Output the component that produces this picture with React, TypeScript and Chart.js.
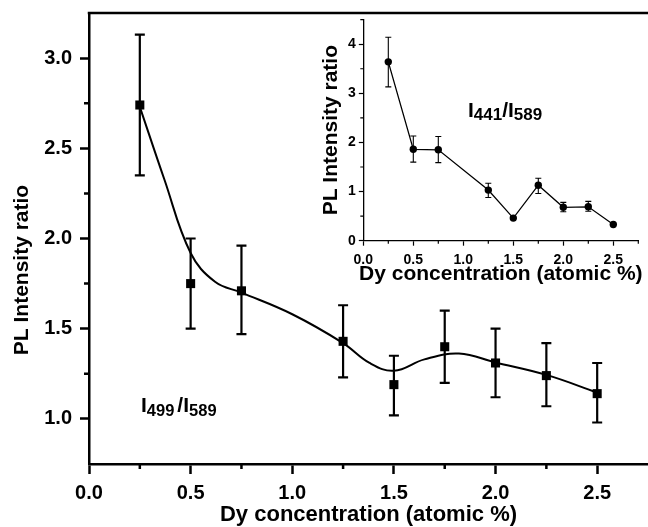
import React, { useEffect, useRef } from 'react';
import { Chart, registerables } from 'chart.js';

Chart.register(...registerables);

// ---- main plot data: I499/I589 ----
const concentration = [0.25, 0.5, 0.75, 1.25, 1.5, 1.75, 2.0, 2.25, 2.5];
const ratio499 = [2.74, 1.75, 1.71, 1.43, 1.19, 1.40, 1.31, 1.24, 1.14];
const ratio499High = [3.13, 2.0, 1.96, 1.63, 1.35, 1.6, 1.5, 1.42, 1.31];
const ratio499Low = [2.35, 1.5, 1.47, 1.23, 1.02, 1.2, 1.12, 1.07, 0.98];

// smooth fit curve
const fitX = [0.25, 0.37, 0.5, 0.62, 0.75, 1.0, 1.25, 1.38, 1.5, 1.65, 1.82, 2.0, 2.25, 2.5];
const fitY = [2.73, 2.33, 1.92, 1.76, 1.70, 1.58, 1.42, 1.31, 1.267, 1.33, 1.362, 1.313, 1.244, 1.146];

// ---- inset data: I441/I589 ----
const ratio441 = [3.64, 1.86, 1.85, 1.03, 0.46, 1.13, 0.68, 0.69, 0.33];
const ratio441High = [4.14, 2.13, 2.12, 1.17, 0.46, 1.27, 0.78, 0.8, 0.33];
const ratio441Low = [3.13, 1.6, 1.59, 0.88, 0.46, 0.96, 0.59, 0.6, 0.33];

// ---- ticks ----
const mainXTicks = [0, 0.5, 1.0, 1.5, 2.0, 2.5];
const mainXMinor = [0.25, 0.75, 1.25, 1.75, 2.25];
const mainYTicks = [1.0, 1.5, 2.0, 2.5, 3.0];
const mainYMinor = [1.25, 1.75, 2.25, 2.75];
const insetXTicks = [0, 0.5, 1.0, 1.5, 2.0, 2.5];
const insetXMinor = [0.25, 0.75, 1.25, 1.75, 2.25, 2.75];
const insetYTicks = [0, 1, 2, 3, 4];
const insetYMinor = [0.5, 1.5, 2.5, 3.5, 4.5];

const xTitle = 'Dy concentration (atomic %)';
const yTitle = 'PL Intensity ratio';
const mainLabel = [
  { t: 'I', sub: false },
  { t: '499', sub: true },
  { t: ' ', sub: false, gap: 3 },
  { t: '/', sub: false },
  { t: 'I', sub: false },
  { t: '589', sub: true },
];
const insetLabel = [
  { t: 'I', sub: false },
  { t: '441', sub: true },
  { t: '/', sub: false },
  { t: 'I', sub: false },
  { t: '589', sub: true },
];

const FAMILY = '"Liberation Sans", Arial, Helvetica, sans-serif';
const BLACK = '#000';

function drawSubText(ctx: CanvasRenderingContext2D, parts: any[], x: number, baseline: number, big: number, small: number, subDrop: number) {
  ctx.save();
  ctx.fillStyle = BLACK;
  ctx.textAlign = 'left';
  ctx.textBaseline = 'alphabetic';
  let cx = x;
  for (const p of parts) {
    if (p.gap) { cx += p.gap; continue; }
    ctx.font = `bold ${p.sub ? small : big}px ${FAMILY}`;
    ctx.fillText(p.t, cx, p.sub ? baseline + subDrop : baseline);
    cx += ctx.measureText(p.t).width;
  }
  ctx.restore();
}

function drawErrorBars(chart: any, xs: number[], lo: number[], hi: number[], width: number, cap: number) {
  const ctx = chart.ctx;
  const xs_ = chart.scales.x;
  const ys_ = chart.scales.y;
  ctx.save();
  ctx.strokeStyle = BLACK;
  ctx.lineWidth = width;
  for (let i = 0; i < xs.length; i++) {
    if (hi[i] - lo[i] < 1e-6) continue;
    const px = xs_.getPixelForValue(xs[i]);
    const pt = ys_.getPixelForValue(hi[i]);
    const pb = ys_.getPixelForValue(lo[i]);
    ctx.beginPath();
    ctx.moveTo(px, pt);
    ctx.lineTo(px, pb);
    ctx.moveTo(px - cap, pt);
    ctx.lineTo(px + cap, pt);
    ctx.moveTo(px - cap, pb);
    ctx.lineTo(px + cap, pb);
    ctx.stroke();
  }
  ctx.restore();
}

function drawMinorTicks(chart: any, xm: number[], ym: number[], len: number, width: number) {
  const ctx = chart.ctx;
  const a = chart.chartArea;
  ctx.save();
  ctx.strokeStyle = BLACK;
  ctx.lineWidth = width;
  ctx.beginPath();
  for (const v of xm) {
    const px = chart.scales.x.getPixelForValue(v);
    ctx.moveTo(px, a.bottom);
    ctx.lineTo(px, a.bottom + len);
  }
  for (const v of ym) {
    const py = chart.scales.y.getPixelForValue(v);
    ctx.moveTo(a.left, py);
    ctx.lineTo(a.left - len, py);
  }
  ctx.stroke();
  ctx.restore();
}

function zeroPad(s: any) {
  s.paddingLeft = 0;
  s.paddingRight = 0;
  s.paddingTop = 0;
  s.paddingBottom = 0;
}

const mainPlugin = {
  id: 'mainDecor',
  beforeDatasetsDraw(chart: any) {
    drawErrorBars(chart, concentration, ratio499Low, ratio499High, 2.2, 5);
  },
  afterDraw(chart: any) {
    const ctx = chart.ctx;
    const a = chart.chartArea;
    drawMinorTicks(chart, mainXMinor, mainYMinor, 5, 2.5);
    // top frame line
    ctx.save();
    ctx.strokeStyle = BLACK;
    ctx.lineWidth = 2.5;
    ctx.beginPath();
    ctx.moveTo(a.left - 1.25, a.top);
    ctx.lineTo(a.right, a.top);
    ctx.stroke();
    // titles
    ctx.fillStyle = BLACK;
    ctx.font = `bold 22px ${FAMILY}`;
    ctx.textAlign = 'center';
    ctx.textBaseline = 'alphabetic';
    ctx.fillText(xTitle, (a.left + a.right) / 2, 521);
    ctx.font = `bold 21px ${FAMILY}`;
    ctx.translate(28, 270);
    ctx.rotate(-Math.PI / 2);
    ctx.fillText(yTitle, 0, 0);
    ctx.restore();
    drawSubText(ctx, mainLabel, 141, 412, 21, 16.5, 4);
  },
};

const insetPlugin = {
  id: 'insetDecor',
  beforeDatasetsDraw(chart: any) {
    drawErrorBars(chart, concentration, ratio441Low, ratio441High, 1.1, 3);
  },
  afterDraw(chart: any) {
    const ctx = chart.ctx;
    const a = chart.chartArea;
    drawMinorTicks(chart, insetXMinor, insetYMinor, 3, 1.2);
    ctx.save();
    ctx.fillStyle = BLACK;
    ctx.font = `bold 21px ${FAMILY}`;
    ctx.textAlign = 'center';
    ctx.textBaseline = 'alphabetic';
    ctx.fillText(xTitle, (a.left + a.right) / 2, 280);
    ctx.translate(47, (a.top + a.bottom) / 2);
    ctx.rotate(-Math.PI / 2);
    ctx.fillText(yTitle, 0, 0);
    ctx.restore();
    drawSubText(ctx, insetLabel, 178, 116.5, 21, 17, 3);
  },
};

export default function App() {
  const mainRef = useRef<HTMLCanvasElement>(null);
  const insetRef = useRef<HTMLCanvasElement>(null);

  useEffect(() => {
    const tickFont = (size: number) => ({ family: FAMILY, size, weight: 'bold' as const });

    const main = new Chart(mainRef.current!, {
      type: 'scatter',
      data: {
        datasets: [
          {
            label: 'fit',
            data: fitX.map((x, i) => ({ x, y: fitY[i] })),
            showLine: true,
            borderColor: BLACK,
            borderWidth: 2,
            pointRadius: 0,
            tension: 0.4,
            order: 2,
          } as any,
          {
            label: 'I499/I589',
            data: concentration.map((x, i) => ({ x, y: ratio499[i] })),
            showLine: false,
            pointStyle: 'rect',
            pointRadius: 6.4,
            backgroundColor: BLACK,
            borderColor: BLACK,
            borderWidth: 0,
            order: 1,
          } as any,
        ],
      },
      options: {
        animation: false,
        responsive: false,
        layout: { autoPadding: false, padding: { top: 13, right: 0, left: 0, bottom: 0 } },
        plugins: { legend: { display: false }, tooltip: { enabled: false } },
        scales: {
          x: {
            type: 'linear',
            min: 0,
            max: 2.75,
            afterBuildTicks: (s: any) => { s.ticks = mainXTicks.map((v) => ({ value: v })); },
            afterFit: (s: any) => { s.height = 63; zeroPad(s); },
            ticks: {
              font: tickFont(20),
              color: BLACK,
              padding: 7,
              autoSkip: false,
              maxRotation: 0,
              minRotation: 0,
              callback: (v: any) => Number(v).toFixed(1),
            },
            grid: { drawOnChartArea: false, tickLength: 10, tickWidth: 2.5, tickColor: BLACK },
            border: { display: true, color: BLACK, width: 2.5 },
          },
          y: {
            type: 'linear',
            min: 0.75,
            max: 3.25,
            afterBuildTicks: (s: any) => { s.ticks = mainYTicks.map((v) => ({ value: v })); },
            afterFit: (s: any) => { s.width = 89; zeroPad(s); },
            ticks: {
              font: tickFont(20),
              color: BLACK,
              padding: 8,
              autoSkip: false,
              callback: (v: any) => Number(v).toFixed(1),
            },
            grid: { drawOnChartArea: false, tickLength: 9, tickWidth: 2.5, tickColor: BLACK },
            border: { display: true, color: BLACK, width: 2.5 },
          },
        },
      },
      plugins: [mainPlugin],
    });

    const inset = new Chart(insetRef.current!, {
      type: 'scatter',
      data: {
        datasets: [
          {
            label: 'I441/I589',
            data: concentration.map((x, i) => ({ x, y: ratio441[i] })),
            showLine: true,
            tension: 0,
            borderColor: BLACK,
            borderWidth: 1.3,
            pointStyle: 'circle',
            pointRadius: 3.7,
            backgroundColor: BLACK,
            pointBorderWidth: 0,
          } as any,
        ],
      },
      options: {
        animation: false,
        responsive: false,
        layout: { autoPadding: false, padding: { top: 19.6, right: 9.7, left: 0, bottom: 0 } },
        plugins: { legend: { display: false }, tooltip: { enabled: false } },
        scales: {
          x: {
            type: 'linear',
            min: 0,
            max: 2.75,
            afterBuildTicks: (s: any) => { s.ticks = insetXTicks.map((v) => ({ value: v })); },
            afterFit: (s: any) => { s.height = 59.3; zeroPad(s); },
            ticks: {
              font: tickFont(14),
              color: BLACK,
              padding: 6,
              autoSkip: false,
              maxRotation: 0,
              minRotation: 0,
              callback: (v: any) => Number(v).toFixed(1),
            },
            grid: { drawOnChartArea: false, tickLength: 5, tickWidth: 1.2, tickColor: BLACK },
            border: { display: true, color: BLACK, width: 1.3 },
          },
          y: {
            type: 'linear',
            min: 0,
            max: 4.5,
            afterBuildTicks: (s: any) => { s.ticks = insetYTicks.map((v) => ({ value: v })); },
            afterFit: (s: any) => { s.width = 73.3; zeroPad(s); },
            ticks: {
              font: tickFont(14),
              color: BLACK,
              padding: 3,
              autoSkip: false,
              callback: (v: any) => String(v),
            },
            grid: { drawOnChartArea: false, tickLength: 4.5, tickWidth: 1.2, tickColor: BLACK },
            border: { display: true, color: BLACK, width: 1.3 },
          },
        },
      },
      plugins: [insetPlugin],
    });

    return () => {
      main.destroy();
      inset.destroy();
    };
  }, []);

  return (
    <div style={{ position: 'absolute', left: 0, top: 0, width: 648, height: 527, background: '#fff' }}>
      <canvas ref={mainRef} width={648} height={527} style={{ position: 'absolute', left: 0, top: 0, width: 648, height: 527 }} />
      <canvas ref={insetRef} width={358} height={300} style={{ position: 'absolute', left: 290, top: 0, width: 358, height: 300 }} />
    </div>
  );
}
